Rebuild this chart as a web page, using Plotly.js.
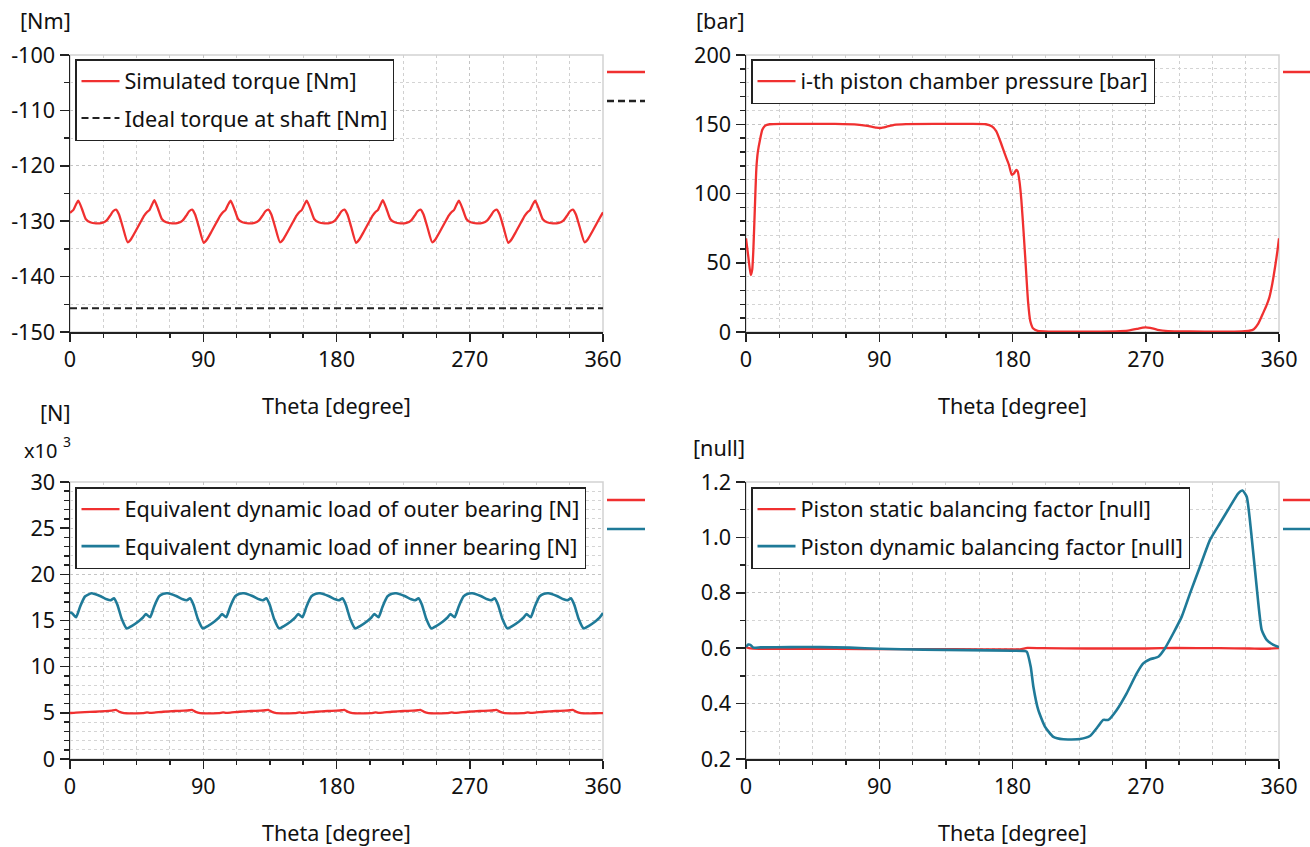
<!DOCTYPE html>
<html>
<head>
<meta charset="utf-8">
<script src="https://cdn.plot.ly/plotly-3.0.1.min.js"></script>
<style>
  html, body { margin: 0; padding: 0; background: #ffffff; }
  #chart { width: 1310px; height: 847px; }
</style>
</head>
<body>
<div id="chart"></div>
<script>
// ---------------- DATA ----------------
// Panel 1: torque [Nm]
const torqueTheta = [0, 0.8, 2.2, 4.2,
  5.6, 8.1, 10.6, 13.6, 17.6, 21.6, 24.6, 27.1, 29.1, 31.1, 33.1, 35.6, 38.9, 41.1, 44.1, 47.6, 50.1, 52.2, 53.6, 55.6,
  57.0, 59.5, 62.0, 65.0, 69.0, 73.0, 76.0, 78.5, 80.5, 82.5, 84.5, 87.0, 90.3, 92.5, 95.5, 99.0, 101.5, 103.6, 105.0, 107.0,
  108.5, 111.0, 113.5, 116.5, 120.5, 124.5, 127.5, 130.0, 132.0, 134.0, 136.0, 138.5, 141.8, 144.0, 147.0, 150.5, 153.0, 155.1, 156.5, 158.5,
  159.9, 162.4, 164.9, 167.9, 171.9, 175.9, 178.9, 181.4, 183.4, 185.4, 187.4, 189.9, 193.2, 195.4, 198.4, 201.9, 204.4, 206.5, 207.9, 209.9,
  211.3, 213.8, 216.3, 219.3, 223.3, 227.3, 230.3, 232.8, 234.8, 236.8, 238.8, 241.3, 244.6, 246.8, 249.8, 253.3, 255.8, 257.9, 259.3, 261.3,
  262.7, 265.2, 267.7, 270.7, 274.7, 278.7, 281.7, 284.2, 286.2, 288.2, 290.2, 292.7, 296.0, 298.2, 301.2, 304.7, 307.2, 309.3, 310.7, 312.7,
  314.2, 316.7, 319.2, 322.2, 326.2, 330.2, 333.2, 335.7, 337.7, 339.7, 341.7, 344.2, 347.5, 349.7, 352.7, 356.2, 358.7, 360];
const simulatedTorque = [-128.5, -128.3, -128.0, -126.9,
  -126.3, -127.8, -129.6, -130.2, -130.4, -130.3, -129.9, -129.0, -128.2, -127.9, -128.8, -131.0, -133.8, -133.3, -131.9, -130.2, -129.0, -128.3, -128.0, -126.9,
  -126.2, -127.8, -129.6, -130.2, -130.4, -130.3, -129.9, -129.0, -128.2, -127.9, -128.8, -131.0, -133.9, -133.3, -131.9, -130.2, -129.0, -128.3, -128.0, -126.9,
  -126.3, -127.8, -129.6, -130.2, -130.4, -130.3, -129.9, -129.0, -128.2, -127.9, -128.8, -131.0, -133.8, -133.3, -131.9, -130.2, -129.0, -128.3, -128.0, -126.9,
  -126.3, -127.8, -129.6, -130.2, -130.4, -130.3, -129.9, -129.0, -128.2, -127.9, -128.8, -131.0, -133.9, -133.3, -131.9, -130.2, -129.0, -128.3, -128.0, -126.9,
  -126.2, -127.8, -129.6, -130.2, -130.4, -130.3, -129.9, -129.0, -128.2, -127.9, -128.8, -131.0, -133.8, -133.3, -131.9, -130.2, -129.0, -128.3, -128.0, -126.9,
  -126.3, -127.8, -129.6, -130.2, -130.4, -130.3, -129.9, -129.0, -128.2, -127.9, -128.8, -131.0, -133.9, -133.3, -131.9, -130.2, -129.0, -128.3, -128.0, -126.9,
  -126.3, -127.8, -129.6, -130.2, -130.4, -130.3, -129.9, -129.0, -128.2, -127.9, -128.8, -131.0, -133.8, -133.3, -131.9, -130.2, -129.0, -128.4];
const idealTheta = [0, 360];
const idealTorque = [-145.7, -145.7];
const torqueTickVals = [-150, -140, -130, -120, -110, -100];
const torqueTickText = ['-150', '-140', '-130', '-120', '-110', '-100'];

// Panel 2: chamber pressure [bar]
const pressureTheta = [0, 1.6, 3.2, 4.2, 5.0, 6.0, 7.0, 8.0, 9.5, 11.0, 13, 16, 25, 40, 60, 75, 82, 88, 91, 95, 100, 108, 130, 150, 162, 166, 169, 172, 175, 177.5, 179.5, 181, 182.5, 183.5, 184.8, 186, 187.5, 189, 190.5, 192, 194, 197, 205, 230, 250, 258, 264, 268, 270, 273, 278, 285, 300, 320, 335, 340, 343, 346, 349, 351.5, 353.5, 355.5, 357.5, 359, 360];
const pressure = [67.6, 54, 41, 45, 60, 90, 118, 130, 139, 146, 149, 150, 150.3, 150.3, 150.2, 149.8, 148.8, 147.5, 147.3, 148.2, 149.5, 150.1, 150.2, 150.2, 150, 148.5, 145, 137, 128, 121, 113.5, 114.5, 117, 116, 108, 95, 72, 47, 22, 8, 2.5, 0.8, 0.3, 0.2, 0.5, 1, 2.2, 3.2, 3.4, 3.0, 1.6, 0.7, 0.4, 0.3, 0.5, 0.9, 2, 6, 13, 19, 25, 35, 48, 59, 67.6];

// Panel 3: bearing loads [x10^3 N]
const innerTheta = [0, 1.6, 4.1, 6.8, 10.1,
  14.6, 20.3, 24.8, 27.5, 29.7, 32.0, 34.9, 38.3, 41.6, 46.2, 49.1, 51.3, 54.1, 56.8, 60.1, 63.1,
  66.0, 71.7, 76.2, 78.9, 81.1, 83.4, 86.3, 89.7, 93.0, 97.6, 100.5, 102.7, 105.5, 108.2, 111.5, 114.5,
  117.5, 123.2, 127.7, 130.4, 132.6, 134.9, 137.8, 141.2, 144.5, 149.1, 152.0, 154.2, 157.0, 159.7, 163.0, 166.0,
  168.9, 174.6, 179.1, 181.8, 184.0, 186.3, 189.2, 192.6, 195.9, 200.5, 203.4, 205.6, 208.4, 211.1, 214.4, 217.4,
  220.3, 226.0, 230.5, 233.2, 235.4, 237.7, 240.6, 244.0, 247.3, 251.9, 254.8, 257.0, 259.8, 262.5, 265.8, 268.8,
  271.7, 277.4, 281.9, 284.6, 286.8, 289.1, 292.0, 295.4, 298.7, 303.3, 306.2, 308.4, 311.2, 313.9, 317.2, 320.2,
  323.2, 328.9, 333.4, 336.1, 338.3, 340.6, 343.5, 346.9, 350.2, 354.8, 357.7, 360];
const innerLoad = [15.9, 15.75, 15.35, 16.5, 17.6,
  17.95, 17.65, 17.3, 17.2, 17.4, 16.7, 15.2, 14.15, 14.4, 14.9, 15.3, 15.7, 15.35, 16.5, 17.6, 17.9,
  17.95, 17.65, 17.3, 17.2, 17.4, 16.7, 15.2, 14.15, 14.4, 14.9, 15.3, 15.7, 15.35, 16.5, 17.6, 17.9,
  17.95, 17.65, 17.3, 17.2, 17.4, 16.7, 15.2, 14.15, 14.4, 14.9, 15.3, 15.7, 15.35, 16.5, 17.6, 17.9,
  17.95, 17.65, 17.3, 17.2, 17.4, 16.7, 15.2, 14.15, 14.4, 14.9, 15.3, 15.7, 15.35, 16.5, 17.6, 17.9,
  17.95, 17.65, 17.3, 17.2, 17.4, 16.7, 15.2, 14.15, 14.4, 14.9, 15.3, 15.7, 15.35, 16.5, 17.6, 17.9,
  17.95, 17.65, 17.3, 17.2, 17.4, 16.7, 15.2, 14.15, 14.4, 14.9, 15.3, 15.7, 15.35, 16.5, 17.6, 17.9,
  17.95, 17.65, 17.3, 17.2, 17.4, 16.7, 15.2, 14.15, 14.4, 14.9, 15.3, 15.8];
const outerTheta = [0, 4, 10, 17, 24, 28,
  31.0, 33.5, 36.5, 43.0, 49.0, 52.0, 54.0, 57.0, 63.0, 71.0, 77.0, 80.5,
  82.4, 84.9, 87.9, 94.4, 100.4, 103.4, 105.4, 108.4, 114.4, 122.4, 128.4, 131.9,
  133.9, 136.4, 139.4, 145.9, 151.9, 154.9, 156.9, 159.9, 165.9, 173.9, 179.9, 183.4,
  185.3, 187.8, 190.8, 197.3, 203.3, 206.3, 208.3, 211.3, 217.3, 225.3, 231.3, 234.8,
  236.7, 239.2, 242.2, 248.7, 254.7, 257.7, 259.7, 262.7, 268.7, 276.7, 282.7, 286.2,
  288.1, 290.6, 293.6, 300.1, 306.1, 309.1, 311.1, 314.1, 320.1, 328.1, 334.1, 337.6,
  339.6, 342.1, 345.1, 351.6, 357.6, 360];
const outerLoad = [4.98, 5.03, 5.08, 5.12, 5.18, 5.24,
  5.32, 5.1, 4.97, 4.95, 4.96, 5.05, 5.0, 5.03, 5.12, 5.2, 5.24, 5.28,
  5.33, 5.1, 4.97, 4.95, 4.96, 5.05, 5.0, 5.03, 5.12, 5.2, 5.24, 5.28,
  5.32, 5.1, 4.96, 4.95, 4.96, 5.05, 5.0, 5.03, 5.12, 5.2, 5.24, 5.28,
  5.33, 5.1, 4.97, 4.95, 4.96, 5.05, 5.0, 5.03, 5.12, 5.2, 5.24, 5.28,
  5.32, 5.1, 4.97, 4.95, 4.96, 5.05, 5.0, 5.03, 5.12, 5.2, 5.24, 5.28,
  5.33, 5.1, 4.96, 4.95, 4.96, 5.05, 5.0, 5.03, 5.12, 5.2, 5.24, 5.28,
  5.32, 5.1, 4.97, 4.95, 4.96, 4.97];

// Panel 4: balancing factors [null]
const staticTheta = [0, 3, 10, 40, 80, 120, 160, 185, 190, 200, 230, 250, 270, 290, 320, 340, 350, 360];
const staticFactor = [0.604, 0.599, 0.598, 0.598, 0.597, 0.597, 0.596, 0.596, 0.601, 0.600, 0.599, 0.599, 0.599, 0.601, 0.600, 0.599, 0.598, 0.600];
const dynamicTheta = [0, 1.5, 3, 5, 10, 30, 50, 70, 90, 120, 150, 180, 188, 189.6, 192.3, 194.1, 197.4, 201.9, 207.6, 214.3, 225.6, 232.3, 238, 241.3, 244.7, 250.4, 257.1, 263.9, 268.3, 272.9, 278.5, 283, 288.6, 294.3, 299.9, 306.6, 313.4, 320.1, 326.9, 332.5, 335.4, 338.2, 341.5, 344.9, 348.3, 351.7, 356.2, 360];
const dynamicFactor = [0.605, 0.613, 0.612, 0.602, 0.603, 0.604, 0.604, 0.602, 0.598, 0.595, 0.593, 0.591, 0.590, 0.5875, 0.533, 0.461, 0.377, 0.317, 0.280, 0.271, 0.272, 0.283, 0.319, 0.341, 0.341, 0.377, 0.437, 0.509, 0.545, 0.560, 0.569, 0.600, 0.654, 0.714, 0.798, 0.894, 0.991, 1.051, 1.111, 1.159, 1.169, 1.147, 1.003, 0.822, 0.666, 0.630, 0.612, 0.604];

// ---------------- STYLE ----------------
const W = 1310, H = 847;
const RED = '#f03030', BLUE = '#1f7a98', BLACK = '#222222';
const FONT = {family: 'Noto Sans, sans-serif', size: 21.6, color: '#111111'};
const MULTFONT = {family: 'Noto Sans, sans-serif', size: 20, color: '#111111'};
const SUPFONT = {family: 'Noto Sans, sans-serif', size: 14, color: '#111111'};
const px = v => v / W;
const py = v => 1 - v / H;

const xLeft = [px(70), px(603)], xRight = [px(746), px(1279)];
const yTop = [py(332), py(55)], yBot = [py(759), py(482)];

function xAxis(domain, anchor) {
  return {
    domain, anchor, range: [0, 360], tickmode: 'linear', tick0: 0, dtick: 90,
    ticks: 'outside', ticklen: 8, tickwidth: 1.5, tickcolor: BLACK,
    showline: true, linecolor: BLACK, linewidth: 1.5,
    showgrid: true, gridcolor: '#c4c4c4', griddash: 'dot', gridwidth: 1,
    zeroline: false, tickfont: FONT, fixedrange: true,
    minor: {tick0: 0, dtick: 22.5, ticks: 'outside', ticklen: 4, tickwidth: 1.5, tickcolor: BLACK,
            showgrid: true, gridcolor: '#d0d0d0', griddash: 'dot', gridwidth: 1}
  };
}
function yAxis(domain, anchor, range, dtick, minorDtick, extra) {
  return Object.assign({
    domain, anchor, range, tickmode: 'linear', tick0: range[0], dtick,
    ticks: 'outside', ticklen: 9, tickwidth: 1.5, tickcolor: BLACK,
    showline: true, linecolor: BLACK, linewidth: 1.5,
    showgrid: true, gridcolor: '#c4c4c4', griddash: 'dot', gridwidth: 1,
    zeroline: false, tickfont: FONT, fixedrange: true,
    minor: {tick0: range[0], dtick: minorDtick, ticks: 'outside', ticklen: 5, tickwidth: 1.5, tickcolor: BLACK,
            showgrid: true, gridcolor: '#d4d4d4', griddash: 'dot', gridwidth: 1}
  }, extra || {});
}

function line(x, y, xa, ya, name, color, legend, group, dash, width) {
  return {x, y, xaxis: xa, yaxis: ya, name, type: 'scatter', mode: 'lines',
          line: {color, width: width || 2.3, dash: dash || 'solid', shape: 'spline', smoothing: 0.5},
          legend, legendgroup: group, hoverinfo: 'skip'};
}

const traces = [
  line(torqueTheta, simulatedTorque, 'x', 'y', 'Simulated torque [Nm]', RED, 'legend', 'a1'),
  line(idealTheta, idealTorque, 'x', 'y', 'Ideal torque at shaft [Nm]', BLACK, 'legend', 'a2', '7px,4px', 2),
  line(pressureTheta, pressure, 'x2', 'y2', 'i-th piston chamber pressure [bar]', RED, 'legend2', 'b1'),
  line(outerTheta, outerLoad, 'x3', 'y3', 'Equivalent dynamic load of outer bearing [N]', RED, 'legend3', 'c1'),
  line(innerTheta, innerLoad, 'x3', 'y3', 'Equivalent dynamic load of inner bearing [N]', BLUE, 'legend3', 'c2', null, 2.6),
  line(staticTheta, staticFactor, 'x4', 'y4', 'Piston static balancing factor [null]', RED, 'legend4', 'd1'),
  line(dynamicTheta, dynamicFactor, 'x4', 'y4', 'Piston dynamic balancing factor [null]', BLUE, 'legend4', 'd2', null, 2.6)
];

function legendAt(x, y) {
  return {x: px(x), y: py(y), xanchor: 'left', yanchor: 'top', bgcolor: '#ffffff',
          bordercolor: BLACK, borderwidth: 1.5, font: FONT, traceorder: 'grouped',
          tracegroupgap: 6, itemwidth: 38, itemclick: false, itemdoubleclick: false};
}

function frame(xr, yr) {
  return {type: 'rect', xref: xr + ' domain', yref: yr + ' domain', x0: 0, x1: 1, y0: 0, y1: 1,
          line: {color: '#d2d2d2', width: 1.5}, layer: 'below'};
}
function stub(x0, x1, y, color, dash) {
  return {type: 'line', xref: 'paper', yref: 'paper', x0: px(x0), x1: px(x1), y0: py(y), y1: py(y),
          line: {color, width: 2.5, dash: dash || 'solid'}};
}
function label(text, x, y, font) {
  return {text, x: px(x), y: py(y), xref: 'paper', yref: 'paper', xanchor: 'center', yanchor: 'middle',
          showarrow: false, font: font || FONT};
}

const layout = {
  width: W, height: H, margin: {l: 0, r: 0, t: 0, b: 0},
  paper_bgcolor: '#ffffff', plot_bgcolor: '#ffffff', font: FONT, showlegend: true,
  xaxis: xAxis(xLeft, 'y'),
  yaxis: yAxis(yTop, 'x', [-150, -100], 10, 5, {tickmode: 'array', tickvals: torqueTickVals, ticktext: torqueTickText}),
  xaxis2: xAxis(xRight, 'y2'),
  yaxis2: yAxis(yTop, 'x2', [0, 200], 50, 10),
  xaxis3: xAxis(xLeft, 'y3'),
  yaxis3: yAxis(yBot, 'x3', [0, 30], 5, 1),
  xaxis4: xAxis(xRight, 'y4'),
  yaxis4: yAxis(yBot, 'x4', [0.2, 1.2], 0.2, 0.1, {tickformat: '.1f'}),
  legend: legendAt(75, 59),
  legend2: legendAt(751, 59),
  legend3: legendAt(75, 487),
  legend4: legendAt(751, 487),
  shapes: [
    frame('x', 'y'), frame('x2', 'y2'), frame('x3', 'y3'), frame('x4', 'y4'),
    stub(607, 645, 72, RED), stub(607, 645, 101, BLACK, '7px,4px'),
    stub(1283, 1310, 72, RED),
    stub(607, 645, 500, RED), stub(607, 645, 529, BLUE),
    stub(1283, 1310, 500, RED), stub(1283, 1310, 529, BLUE)
  ],
  annotations: [
    label('[Nm]', 45, 20), label('[bar]', 721, 20),
    label('[N]', 55, 412), label('x10', 40, 451, MULTFONT), label('3', 67, 441, SUPFONT), label('[null]', 719, 447),
    label('Theta [degree]', 336, 405), label('Theta [degree]', 1012, 405),
    label('Theta [degree]', 336, 832), label('Theta [degree]', 1012, 832)
  ]
};

Plotly.newPlot('chart', traces, layout, {staticPlot: true, displayModeBar: false});
</script>
</body>
</html>
